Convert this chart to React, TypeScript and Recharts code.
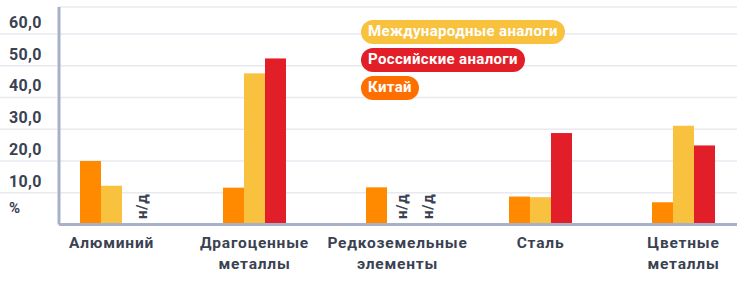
import React from 'react';
import { BarChart, Bar, XAxis, YAxis, CartesianGrid, Legend } from 'recharts';

const categories = ['Алюминий', 'Драгоценные\nметаллы', 'Редкоземельные\nэлементы', 'Сталь', 'Цветные\nметаллы'];
const china: (number | null)[] = [20.0, 11.6, 11.7, 8.8, 7.0];
const international: (number | null)[] = [12.2, 47.6, null, 8.6, 31.1];
const russian: (number | null)[] = [null, 52.3, null, 28.8, 24.9];
const yTicks = [0, 10, 20, 30, 40, 50, 60];
const yTickLabels = ['%', '10,0', '20,0', '30,0', '40,0', '50,0', '60,0'];
const seriesNames = { intl: 'Международные аналоги', rus: 'Российские аналоги', china: 'Китай' };
const naText = 'н/д';

const COLORS = {
  china: '#ff8a00',
  intl: '#f8c23e',
  rus: '#e21f28',
  chinaLegend: '#ff6f00',
  text: '#3a4252',
  grid: '#e9eaf0',
  axis: '#a9b1c9',
};
const FONT = 'Roboto, "Noto Sans", sans-serif';

const data = categories.map((name, i) => ({
  name,
  china: china[i] ?? 0,
  intl: international[i] ?? 0,
  rus: russian[i] ?? 0,
  chinaNA: china[i] == null,
  intlNA: international[i] == null,
  rusNA: russian[i] == null,
}));

const makeShape = (key: 'china' | 'intl' | 'rus', fill: string, shift: number) => (props: any) => {
  const { x, y, width, height, payload } = props;
  if (payload && payload[key + 'NA']) {
    const cx = x + width / 2 + shift;
    const by = 219;
    return (
      <text
        x={cx}
        y={by}
        transform={`rotate(-90 ${cx} ${by})`}
        dy="0.36em"
        textAnchor="start"
        fontFamily={FONT}
        fontWeight={700}
        fontSize={15}
        letterSpacing={0.6}
        fill={COLORS.text}
      >
        {naText}
      </text>
    );
  }
  if (!height || height <= 0) return <g />;
  return <rect x={x} y={y} width={width} height={height} fill={fill} />;
};

const YTick = (props: any) => {
  const { y, payload, index } = props;
  const v = payload.value;
  const idx = yTicks.indexOf(v);
  const label = yTickLabels[idx >= 0 ? idx : index];
  if (v === 0) {
    return (
      <text x={9} y={208} dy="0.36em" fontFamily={FONT} fontWeight={700} fontSize={15} fill={COLORS.text}>
        {label}
      </text>
    );
  }
  return (
    <g>
      <line x1={0} x2={57} y1={y} y2={y} stroke={COLORS.grid} strokeWidth={1.5} />
      <text x={9} y={y - 12} dy="0.36em" fontFamily={FONT} fontWeight={700} fontSize={16} letterSpacing={0.3} fill={COLORS.text}>
        {label}
      </text>
    </g>
  );
};

const XTick = (props: any) => {
  const { x, y, payload } = props;
  const lines = String(payload.value).split('\n');
  return (
    <text x={x} y={y} textAnchor="middle" fontFamily={FONT} fontWeight={700} fontSize={15.5} letterSpacing={0.8} fill={COLORS.text}>
      {lines.map((l, i) => (
        <tspan key={i} x={x} y={y + 23 + i * 21}>
          {l}
        </tspan>
      ))}
    </text>
  );
};

const legendItems = [
  { key: 'intl', label: seriesNames.intl, color: COLORS.intl },
  { key: 'rus', label: seriesNames.rus, color: COLORS.rus },
  { key: 'china', label: seriesNames.china, color: COLORS.chinaLegend },
];

const LegendContent = () => (
  <div style={{ display: 'flex', flexDirection: 'column', alignItems: 'flex-start', gap: 4.5 }}>
    {legendItems.map((it) => (
      <div
        key={it.key}
        style={{
          background: it.color,
          color: '#ffffff',
          fontFamily: FONT,
          fontWeight: 700,
          fontSize: 15,
          letterSpacing: 0.35,
          height: 23.5,
          lineHeight: '23.5px',
          padding: '0 7px',
          borderRadius: 12,
          whiteSpace: 'nowrap',
        }}
      >
        {it.label}
      </div>
    ))}
  </div>
);

export default function App() {
  return (
    <div style={{ position: 'absolute', left: 0, top: 0, width: 742, height: 282, background: '#ffffff' }}>
      <BarChart
        width={742}
        height={282}
        data={data}
        margin={{ top: 7, right: 5, left: 0, bottom: 0 }}
        barGap={0}
        barSize={21}
      >
        <CartesianGrid horizontal vertical={false} stroke={COLORS.grid} strokeWidth={1.5} />
        <Bar dataKey="china" fill={COLORS.china} isAnimationActive={false} shape={makeShape('china', COLORS.china, 6)} />
        <Bar dataKey="intl" fill={COLORS.intl} isAnimationActive={false} shape={makeShape('intl', COLORS.intl, 4)} />
        <Bar dataKey="rus" fill={COLORS.rus} isAnimationActive={false} shape={makeShape('rus', COLORS.rus, 9)} />
        <YAxis
          width={59}
          domain={[0, 68.5]}
          ticks={yTicks}
          interval={0}
          axisLine={{ stroke: COLORS.axis, strokeWidth: 3 }}
          tickLine={false}
          tick={<YTick />}
        />
        <XAxis
          dataKey="name"
          height={57.5}
          padding={{ left: -19, right: -18 }}
          interval={0}
          axisLine={{ stroke: COLORS.axis, strokeWidth: 3 }}
          tickLine={false}
          tickSize={0}
          tickMargin={0}
          tick={<XTick />}
        />
        <Legend
          layout="vertical"
          align="center"
          verticalAlign="middle"
          content={<LegendContent />}
          wrapperStyle={{ position: 'absolute', left: 361, top: 20, width: 'auto', height: 'auto' }}
        />
      </BarChart>
    </div>
  );
}
